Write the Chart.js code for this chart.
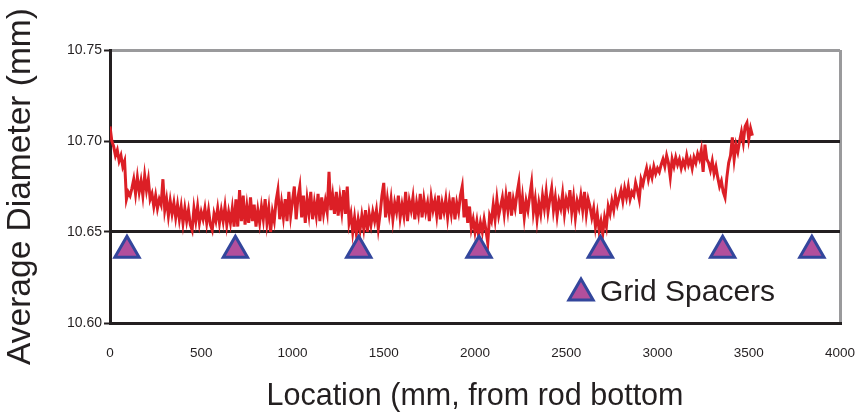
<!DOCTYPE html>
<html>
<head>
<meta charset="utf-8">
<script src="https://cdn.jsdelivr.net/npm/chart.js@4.4.1/dist/chart.umd.min.js"></script>
<style>
html,body{margin:0;padding:0;background:#fff;}
#wrap{width:861px;height:415px;position:relative;}
</style>
</head>
<body>
<div id="wrap"><canvas id="c" width="861" height="415"></canvas></div>
<script>
// Sampling interval of the diameter trace along the rod (mm)
const STEP_MM = 10;
// Average diameter (mm), one value per STEP_MM from the rod bottom
const diameter = [
10.708,10.700,10.697,10.692,10.695,10.689,10.692,10.686,10.689,10.668,
10.672,10.670,10.674,10.679,10.671,10.680,10.672,10.678,10.670,10.681,
10.673,10.679,10.668,10.671,10.664,10.670,10.663,10.668,10.665,10.679,
10.662,10.668,10.659,10.667,10.660,10.666,10.658,10.665,10.657,10.664,
10.655,10.663,10.656,10.662,10.654,10.651,10.663,10.656,10.664,10.655,
10.661,10.657,10.663,10.655,10.662,10.654,10.651,10.660,10.656,10.663,
10.655,10.662,10.656,10.664,10.654,10.661,10.655,10.663,10.653,10.668,
10.653,10.673,10.656,10.670,10.654,10.664,10.655,10.669,10.656,10.665,
10.653,10.662,10.655,10.664,10.657,10.668,10.655,10.663,10.650,10.661,
10.656,10.667,10.673,10.657,10.666,10.658,10.668,10.656,10.672,10.659,
10.667,10.675,10.657,10.669,10.675,10.658,10.670,10.655,10.668,10.660,
10.672,10.657,10.666,10.659,10.671,10.656,10.669,10.660,10.667,10.661,
10.683,10.662,10.670,10.660,10.672,10.659,10.669,10.661,10.673,10.660,
10.675,10.655,10.660,10.650,10.658,10.649,10.657,10.651,10.659,10.652,
10.662,10.650,10.660,10.654,10.661,10.656,10.662,10.652,10.660,10.670,
10.677,10.658,10.668,10.660,10.668,10.657,10.666,10.661,10.670,10.658,
10.665,10.659,10.672,10.656,10.667,10.662,10.669,10.657,10.666,10.660,
10.671,10.658,10.668,10.661,10.666,10.656,10.669,10.662,10.667,10.659,
10.670,10.657,10.666,10.661,10.668,10.658,10.667,10.660,10.669,10.657,
10.666,10.661,10.670,10.675,10.658,10.668,10.655,10.664,10.652,10.657,
10.650,10.656,10.648,10.655,10.650,10.657,10.651,10.644,10.659,10.656,
10.665,10.657,10.668,10.659,10.664,10.669,10.660,10.670,10.662,10.672,
10.659,10.668,10.663,10.671,10.677,10.660,10.669,10.658,10.667,10.662,
10.670,10.677,10.661,10.668,10.657,10.666,10.660,10.670,10.663,10.672,
10.661,10.668,10.674,10.662,10.669,10.659,10.667,10.663,10.671,10.660,
10.668,10.664,10.673,10.661,10.669,10.658,10.667,10.663,10.670,10.662,
10.672,10.660,10.668,10.664,10.658,10.663,10.653,10.660,10.651,10.656,
10.649,10.658,10.653,10.664,10.660,10.667,10.662,10.670,10.665,10.669,
10.673,10.667,10.674,10.669,10.675,10.668,10.672,10.670,10.677,10.673,
10.668,10.679,10.676,10.681,10.685,10.679,10.684,10.680,10.686,10.682,
10.685,10.683,10.687,10.690,10.686,10.692,10.688,10.680,10.690,10.686,
10.691,10.687,10.690,10.685,10.689,10.686,10.692,10.687,10.690,10.685,
10.691,10.688,10.693,10.690,10.695,10.683,10.698,10.690,10.688,10.684,
10.689,10.682,10.686,10.680,10.675,10.678,10.672,10.669,10.680,10.688,
10.692,10.702,10.690,10.698,10.694,10.700,10.705,10.699,10.708,10.710,
10.701,10.707,10.703
];
// Grid spacer locations (mm) and the level at which they are marked
const spacerLocations = [93, 687, 1363, 2022, 2687, 3357, 3846];
const spacerLevel = 10.64;
// Axis ticks
const yTicks = [10.60, 10.65, 10.70, 10.75];
const xTicks = [0, 500, 1000, 1500, 2000, 2500, 3000, 3500, 4000];

const seriesLabel = 'Grid Spacers';
const xTitle = 'Location (mm, from rod bottom';
const yTitle = 'Average Diameter (mm)';

const RED = '#dc1f26';
const TRI_FILL = '#b24f9c';
const TRI_EDGE = '#33469c';
const INK = '#231f20';
const GRAY = '#9a9a9c';

const lineData = diameter.map((v, i) => ({x: i * STEP_MM, y: v}));
const spacerData = spacerLocations.map(x => ({x: x, y: spacerLevel}));

const legendPlugin = {
  id: 'spacerLegend',
  afterDatasetsDraw(chart) {
    const ctx = chart.ctx;
    const ds = chart.data.datasets[1];
    ctx.save();
    ctx.fillStyle = ds.backgroundColor;
    ctx.strokeStyle = ds.borderColor;
    ctx.lineWidth = 3;
    Chart.helpers.drawPoint(ctx, {pointStyle: 'triangle', radius: 14, borderWidth: 3}, 581, 293);
    ctx.fillStyle = INK;
    ctx.font = '30px "Liberation Sans", Arial, sans-serif';
    ctx.textBaseline = 'alphabetic';
    ctx.textAlign = 'left';
    ctx.fillText(ds.label, 600, 301);
    ctx.restore();
  }
};

new Chart(document.getElementById('c'), {
  type: 'scatter',
  data: {
    datasets: [
      {
        label: 'Average Diameter',
        data: lineData,
        showLine: true,
        borderColor: RED,
        backgroundColor: RED,
        borderWidth: 3,
        pointRadius: 0,
        tension: 0,
        order: 2
      },
      {
        label: seriesLabel,
        data: spacerData,
        showLine: false,
        pointStyle: 'triangle',
        pointRadius: 14,
        pointBorderWidth: 3,
        backgroundColor: TRI_FILL,
        borderColor: TRI_EDGE,
        order: 1
      }
    ]
  },
  options: {
    responsive: false,
    animation: false,
    layout: {padding: {top: 50, right: 21, left: 0, bottom: 0}},
    plugins: {legend: {display: false}, tooltip: {enabled: false}},
    scales: {
      x: {
        type: 'linear',
        min: 0, max: 4000,
        afterFit(s) { s.height = 92; s.paddingLeft = 0; s.paddingRight = 0; },
        afterBuildTicks(s) { s.ticks = xTicks.map(v => ({value: v})); },
        ticks: {
          color: INK,
          font: {family: '"Liberation Sans", Arial, sans-serif', size: 13.5},
          padding: 22,
          maxRotation: 0,
          callback: v => String(v)
        },
        grid: {
          drawTicks: false,
          lineWidth: 3,
          color: c => (c.tick && c.tick.value === 4000) ? GRAY : 'rgba(0,0,0,0)'
        },
        border: {display: true, color: INK, width: 3},
        title: {
          display: true,
          text: xTitle,
          color: INK,
          font: {family: '"Liberation Sans", Arial, sans-serif', size: 30.5},
          padding: {top: 0, bottom: 0}
        }
      },
      y: {
        type: 'linear',
        min: 10.60, max: 10.75,
        afterFit(s) { s.width = 110; s.paddingTop = 0; s.paddingBottom = 0; },
        afterBuildTicks(s) { s.ticks = yTicks.map(v => ({value: v})); },
        ticks: {
          color: INK,
          font: {family: '"Liberation Sans", Arial, sans-serif', size: 14},
          padding: 2,
          callback: v => Number(v).toFixed(2)
        },
        grid: {
          drawTicks: true,
          tickLength: 6,
          tickWidth: 2,
          tickColor: INK,
          lineWidth: 3,
          color: c => (c.tick && Math.abs(c.tick.value - 10.75) < 1e-6) ? GRAY : INK
        },
        border: {display: true, color: INK, width: 3},
        title: {
          display: true,
          text: yTitle,
          color: INK,
          font: {family: '"Liberation Sans", Arial, sans-serif', size: 33.5},
          padding: {top: 1, bottom: 0}
        }
      }
    }
  },
  plugins: [legendPlugin]
});
</script>
</body>
</html>
